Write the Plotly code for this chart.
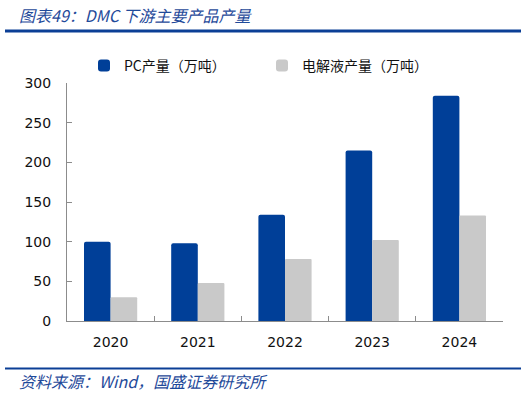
import plotly.graph_objects as go

years = ["2020", "2021", "2022", "2023", "2024"]
pc_output = [100, 98, 134, 215, 284]
electrolyte_output = [30, 48, 78, 102, 133]
series_names = ["PC产量（万吨）", "电解液产量（万吨）"]
y_ticks = [0, 50, 100, 150, 200, 250, 300]

W, H = 526, 394
ML, MR, MT, MB = 67, 23, 83, 73
PH = H - MT - MB
PW = W - ML - MR


def py(p):
    return (H - MB - p) / PH


def px(p):
    return (p - ML) / PW


BLUE = "#003F98"
GRAY = "#C9C9C9"
TXT_BLUE = "#1F4A9A"
AXIS = "#8C8C8C"

fig = go.Figure()
fig.add_trace(go.Bar(x=years, y=pc_output, name=series_names[0],
                     marker=dict(color=BLUE, cornerradius=2, line=dict(width=0))))
fig.add_trace(go.Bar(x=years, y=electrolyte_output, name=series_names[1],
                     marker=dict(color=GRAY, cornerradius=1, line=dict(width=0))))

fig.update_layout(
    width=W, height=H,
    margin=dict(l=ML, r=MR, t=MT, b=MB, pad=0, autoexpand=False),
    paper_bgcolor="white", plot_bgcolor="white",
    barmode="group", bargap=0.39, bargroupgap=0,
    font=dict(family="DejaVu Sans, Verdana, sans-serif", size=14, color="#111111"),
    showlegend=True,
    legend=dict(orientation="h", xref="container", yref="container",
                x=84 / W, y=1 - 66 / H, xanchor="left", yanchor="middle",
                font=dict(family="Noto Sans CJK SC", size=14, color="#111111"),
                entrywidth=133, entrywidthmode="pixels",
                bgcolor="rgba(0,0,0,0)", borderwidth=0, itemclick=False),
    xaxis=dict(type="category", showline=True, linecolor=AXIS, linewidth=1,
               ticks="inside", ticklen=5, tickcolor=AXIS, tickson="boundaries",
               showgrid=False, tickfont=dict(size=14), ticklabelstandoff=8,
               automargin=False),
    yaxis=dict(range=[0, 300], tickvals=y_ticks, showline=True, linecolor=AXIS, linewidth=1,
               ticks="inside", ticklen=5, tickcolor=AXIS, showgrid=False, zeroline=False,
               tickfont=dict(size=14), ticklabelstandoff=12, automargin=False),
)

fig.add_annotation(text="图表49：DMC 下游主要产品产量", xref="paper", yref="paper",
                   x=px(17), y=py(15), xanchor="left", yanchor="middle", showarrow=False,
                   font=dict(family="Noto Sans CJK SC", size=16, color=TXT_BLUE, style="italic"))
fig.add_annotation(text="资料来源：Wind，国盛证券研究所", xref="paper", yref="paper",
                   x=px(17), y=py(381), xanchor="left", yanchor="middle", showarrow=False,
                   font=dict(family="Noto Sans CJK SC", size=16, color=TXT_BLUE, style="italic"))

fig.add_shape(type="line", xref="paper", yref="paper", x0=px(5), x1=px(521), y0=py(31), y1=py(31),
              line=dict(color="#0B3F96", width=3))
fig.add_shape(type="line", xref="paper", yref="paper", x0=px(5), x1=px(521), y0=py(368.5), y1=py(368.5),
              line=dict(color="#0B3F96", width=2))

fig.write_html("out.html", config={"displayModeBar": False},
               post_script="document.body.style.margin='0';document.body.style.overflow='hidden';")
